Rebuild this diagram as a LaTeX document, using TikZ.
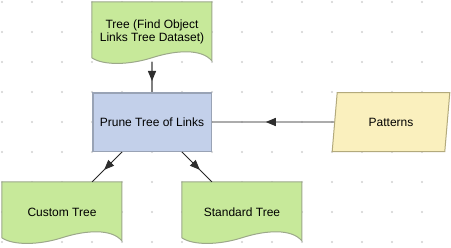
\documentclass[tikz,border=0pt]{standalone}
\usepackage{fontspec}
\setmainfont{Liberation Sans}
\usetikzlibrary{arrows.meta,decorations.markings,shapes.geometric,backgrounds}
\definecolor{gfill}{HTML}{C7E99A}
\definecolor{gdraw}{HTML}{9CA88A}
\definecolor{bfill}{HTML}{C3D0EA}
\definecolor{bdraw}{HTML}{99A3B5}
\definecolor{yfill}{HTML}{FAF0BE}
\definecolor{ydraw}{HTML}{B3AA7C}
\definecolor{dotc}{HTML}{D0D0D0}
\definecolor{linec}{HTML}{808080}
\definecolor{tipc}{HTML}{2E2E2E}
\newcommand\gdocpath[1]{%
  \begin{scope}[shift={(#1.north west)}]
    \path[docshape] (0,0) -- (120,0) -- (120,59)
      .. controls (110,47) and (85,48) .. (60,56)
      .. controls (38,63) and (12,64) .. (0,56) -- cycle;
  \end{scope}}
\begin{document}
\begin{tikzpicture}[x=1pt,y=-1pt,
  font=\fontsize{12}{13.7}\selectfont,
  docbox/.style={minimum width=120pt,minimum height=60pt,inner sep=0pt,align=center},
  procbox/.style={draw=bdraw,fill=bfill,line width=1.5pt,minimum width=118.5pt,minimum height=58.5pt,inner sep=0pt},
  databox/.style={trapezium,trapezium left angle=76,trapezium right angle=104,trapezium stretches=true,draw=ydraw,fill=yfill,line width=1pt,minimum height=59pt,minimum width=118pt,inner sep=0pt},
  docshape/.style={fill=gfill,draw=gdraw,line width=1pt},
  conn/.style={line width=1.4pt,draw=linec,postaction={decorate},decoration={markings,mark=at position #1 with {\arrow[tipc]{Triangle[length=10pt,width=8pt]}}}},
  thinconn/.style={line width=0.9pt,draw=black!85,postaction={decorate},decoration={markings,mark=at position #1 with {\arrow[tipc]{Triangle[length=10pt,width=8pt]}}}}]
\useasboundingbox (0,0) rectangle (451,247);

\node[docbox] (top) at (152,32) {Tree (Find Object\\Links Tree Dataset)};
\node[procbox] (prune) at (152,122) {Prune Tree of Links};
\node[databox] (pat) at (391,122) {Patterns};
\node[docbox] (custom) at (62,212) {Custom Tree};
\node[docbox] (standard) at (242,212) {Standard Tree};

\begin{scope}[on background layer]
  \foreach \i in {0,...,15}{\foreach \j in {0,...,8}{\fill[dotc] (2+30*\i,2+30*\j) circle (1.1);}}
  \gdocpath{top}
  \gdocpath{custom}
  \gdocpath{standard}
\end{scope}

\draw[conn=0.63] (top.south) -- (prune.north);
\draw[conn=0.56] (pat.west) -- (prune.east);
\draw[thinconn=0.6] (prune.-135) -- (custom.45);
\draw[thinconn=0.6] (prune.-45) -- (standard.135);
\end{tikzpicture}
\end{document}
